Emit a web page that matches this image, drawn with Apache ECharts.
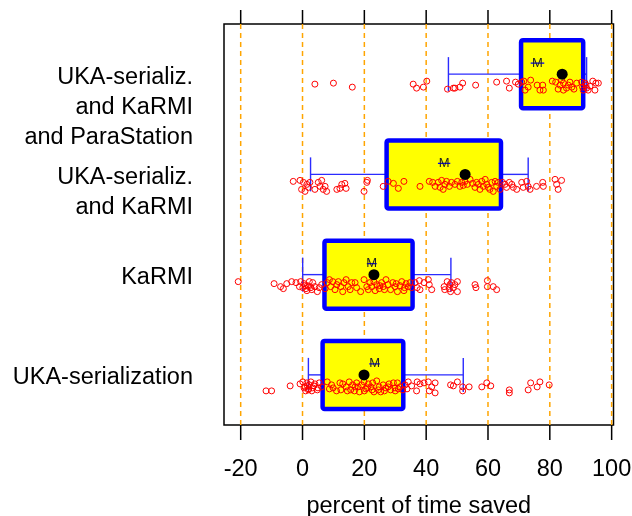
<!DOCTYPE html>
<html>
<head>
<meta charset="utf-8">
<script src="https://cdn.jsdelivr.net/npm/echarts@6/dist/echarts.min.js"></script>
<style>html,body{margin:0;padding:0;background:#fff;}#c{width:632px;height:516px;}</style>
</head>
<body>
<div id="c"></div>
<script>
// ---- data ----
const categories = ['UKA-serialization', 'KaRMI', 'UKA-serializ.\nand KaRMI', 'UKA-serializ.\nand KaRMI\nand ParaStation'];
const q1 = [6.5, 7.1, 27.2, 70.7];
const q3 = [32.6, 35.6, 64.2, 90.8];
const p10 = [1.9, 0.05, 2.6, 47.2];
const p90 = [52.0, 48.0, 73.0, 91.9];
const medians = [19.9, 23.1, 52.6, 84.0];
const means = [23.3, 22.4, 45.8, 76.0];
const stdErr = [1.7, 1.6, 2.0, 2.2];
const xTicks = [-20, 0, 20, 40, 60, 80, 100];
const xTickLabels = ['-20', '0', '20', '40', '60', '80', '100'];
const xTitle = 'percent of time saved';

// observations: [value, vertical jitter]
const pointsUKA = [[-11.8,16],[-10.0,16],[-4.0,11],[-0.8,9],[0.1,7],[0.5,13],[0.8,12],[1.0,16],[1.4,8],[1.6,11],[1.9,15],[2.0,14],[2.2,10],[2.7,7],[3.0,16],[3.3,13],[3.6,11],[4.0,9],[4.8,15],[5.0,13],[5.4,8],[6.2,12],[8.0,7],[8.7,14],[9.4,10],[9.9,13],[11.0,16],[12.1,8],[12.4,15],[13.0,9],[14.1,12],[14.5,16],[15.1,7],[15.6,15],[16.2,10],[16.8,16],[17.0,12],[17.5,8],[18.0,12],[18.4,17],[19.1,10],[19.9,7],[20.0,16],[20.5,14],[21.0,13],[21.3,9],[22.1,12],[22.5,15],[22.7,8],[23.1,17],[24.0,6],[24.5,15],[24.8,12],[25.3,17],[26.1,10],[26.5,16],[27.0,13],[27.7,12],[28.0,9],[28.5,15],[29.4,8],[29.9,13],[30.0,16],[30.7,8],[31.0,14],[31.5,12],[32.4,15],[33.2,10],[33.8,14],[34.2,7],[35.3,11],[36.9,16],[37.1,7],[38.0,9],[39.3,8],[40.7,7],[41.0,16],[41.8,12],[42.9,8],[42.9,18],[47.9,10],[48.8,11],[50.1,7],[51.8,12],[51.8,16],[53.9,12],[58.0,12],[59.6,8],[60.9,11],[66.9,15],[66.9,18],[73.0,15],[73.8,8],[75.9,12],[76.8,7],[79.8,10]];
const pointsKaRMI = [[-20.8,7],[-9.2,9],[-7.1,12],[-6.2,14],[-5.1,9],[-3.5,7],[-2.1,8],[-1.0,12],[-0.6,7],[0.1,13],[0.5,9],[0.8,11],[1.1,14],[1.4,16],[1.6,11],[2.0,12],[2.2,7],[2.7,13],[3.0,15],[3.3,8],[4.0,12],[4.8,17],[5.4,13],[6.2,10],[7.3,14],[8.0,8],[8.7,5],[9.1,12],[9.8,7],[10.5,15],[11.1,10],[11.6,7],[12.4,12],[13.0,17],[13.4,8],[14.1,5],[14.8,12],[15.4,15],[15.9,8],[17.0,8],[17.5,13],[18.8,17],[19.9,5],[20.8,12],[21.3,15],[21.8,8],[22.4,12],[23.1,7],[23.5,16],[24.0,10],[24.8,14],[25.0,11],[25.6,8],[26.1,12],[26.5,15],[27.0,5],[27.7,10],[28.5,15],[29.2,8],[29.9,12],[30.3,9],[30.7,17],[31.5,11],[32.1,7],[32.8,16],[33.0,13],[33.5,9],[34.2,12],[34.8,8],[35.3,13],[36.4,8],[37.1,13],[37.8,6],[38.0,15],[39.3,8],[40.7,5],[41.0,10],[41.8,15],[45.8,12],[46.0,15],[46.8,7],[47.5,14],[47.7,10],[47.9,17],[48.2,8],[48.8,13],[49.3,10],[50.1,7],[50.1,17],[55.8,10],[56.1,13],[59.8,6],[59.8,12],[61.7,12],[62.8,15]];
const pointsBoth = [[-3.0,7],[-0.8,6],[-0.3,15],[0.3,8],[0.8,17],[1.4,10],[1.9,13],[2.4,8],[4.0,15],[5.1,8],[5.7,12],[6.2,6],[6.7,15],[7.3,12],[7.8,17],[11.1,15],[12.1,14],[12.7,10],[13.7,9],[14.1,14],[19.9,17],[20.8,8],[21.0,6],[26.1,12],[27.7,7],[29.4,9],[31.0,14],[32.8,7],[38.0,12],[41.0,7],[42.1,8],[42.9,12],[43.9,8],[44.5,13],[45.0,6],[45.5,15],[46.1,10],[46.6,7],[47.5,12],[48.2,8],[49.3,10],[50.1,7],[50.9,12],[51.5,8],[52.0,11],[52.6,7],[53.3,10],[54.2,5],[55.0,9],[55.8,13],[56.3,8],[56.9,10],[57.4,15],[58.0,7],[58.5,12],[59.1,5],[59.6,10],[60.1,13],[60.6,15],[61.2,8],[61.7,17],[62.3,7],[62.8,12],[63.3,8],[63.9,15],[64.7,8],[65.5,10],[66.0,13],[66.9,8],[67.7,10],[68.2,13],[69.3,15],[70.9,8],[71.4,13],[72.5,7],[73.0,12],[73.6,15],[75.7,12],[77.7,8],[77.9,12],[81.7,5],[82.2,10],[82.7,15],[83.8,6]];
const pointsAll = [[4.0,10],[10.0,9],[16.1,13],[35.8,10],[36.9,14],[39.1,13],[40.2,7],[46.9,15],[48.8,14],[49.3,14],[50.9,13],[51.8,9],[56.0,11],[62.8,8],[66.0,7],[66.9,14],[68.9,8],[69.8,10],[70.9,8],[71.6,7],[72.0,16],[73.0,13],[73.8,6],[75.9,11],[76.8,16],[77.7,11],[77.9,16],[80.8,7],[81.9,8],[82.7,15],[83.3,11],[83.8,6],[84.4,9],[84.4,16],[85.4,14],[86.0,11],[86.5,8],[87.1,13],[87.8,15],[88.7,9],[90.3,8],[90.6,13],[90.8,16],[91.4,9],[91.7,11],[91.9,14],[92.4,16],[93.0,12],[93.9,7],[94.6,16],[94.9,9],[95.7,9]];

// ---- build ----
const groups = [pointsUKA, pointsKaRMI, pointsBoth, pointsAll];
const pointData = [];
groups.forEach((arr, g) => arr.forEach(p => pointData.push([p[0], g, p[1]])));
const boxData = categories.map((c, g) => [g, p10[g], q1[g], medians[g], q3[g], p90[g], means[g], stdErr[g]]);
const gridLineData = xTicks.map(v => [v]);
const LABEL_SHIFT = 0.12;
const Y_MIN = -0.5, Y_MAX = 3.5;

const FONT = '"Liberation Sans", Arial, Helvetica, sans-serif';
const chart = echarts.init(document.getElementById('c'));

function renderGridLine(params, api) {
  const v = api.value(0);
  const a = api.coord([v, Y_MIN]);
  const b = api.coord([v, Y_MAX]);
  const tk = {stroke: '#000', lineWidth: 1.5};
  return {type: 'group', children: [
    {type: 'line', shape: {x1: a[0], y1: a[1], x2: b[0], y2: b[1]},
      style: {stroke: '#FFA500', lineWidth: 1.5, lineDash: [5, 4]}},
    {type: 'line', shape: {x1: a[0], y1: a[1], x2: a[0], y2: a[1] + 15}, style: tk},
    {type: 'line', shape: {x1: b[0], y1: b[1], x2: b[0], y2: b[1] - 14}, style: tk}
  ]};
}
function renderBox(params, api) {
  const g = api.value(0);
  const w1 = api.coord([api.value(1), g]);
  const b1 = api.coord([api.value(2), g]);
  const b3 = api.coord([api.value(4), g]);
  const w2 = api.coord([api.value(5), g]);
  const y = b1[1];
  const hh = 34;
  const ws = {stroke: '#2b2bff', lineWidth: 1.4};
  return {type: 'group', children: [
    {type: 'line', shape: {x1: w1[0], y1: y, x2: b1[0], y2: y}, style: ws},
    {type: 'line', shape: {x1: b3[0], y1: y, x2: w2[0], y2: y}, style: ws},
    {type: 'line', shape: {x1: w1[0], y1: y - 17, x2: w1[0], y2: y + 17}, style: ws},
    {type: 'line', shape: {x1: w2[0], y1: y - 17, x2: w2[0], y2: y + 17}, style: ws},
    {type: 'rect', shape: {x: b1[0], y: y - hh, width: b3[0] - b1[0], height: 2 * hh, r: 2},
      style: {fill: '#FFFF00', stroke: '#0000FF', lineWidth: 4.5, lineJoin: 'round'}}
  ]};
}
function renderPoint(params, api) {
  const c = api.coord([api.value(0), api.value(1)]);
  return {type: 'circle', shape: {cx: c[0], cy: c[1] + api.value(2), r: 3},
    style: {fill: 'none', stroke: '#FF0000', lineWidth: 1}};
}
function renderCenter(params, api) {
  const g = api.value(0);
  const med = api.coord([api.value(3), g]);
  const mean = api.value(6), se = api.value(7);
  const mA = api.coord([mean - se, g]);
  const mB = api.coord([mean + se, g]);
  const mC = api.coord([mean, g]);
  const my = mC[1] - 11;
  return {type: 'group', children: [
    {type: 'line', shape: {x1: mA[0], y1: my, x2: mB[0], y2: my}, style: {stroke: '#0000FF', lineWidth: 1.3}},
    {type: 'text', style: {text: 'M', x: mC[0], y: my, align: 'center', verticalAlign: 'middle',
      fontSize: 13, fontFamily: FONT, fill: '#222'}},
    {type: 'circle', shape: {cx: med[0], cy: med[1], r: 5.5}, style: {fill: '#000'}}
  ]};
}

chart.setOption({
  animation: false,
  grid: {left: 224, right: 18.5, top: 24, bottom: 91, show: true, borderColor: '#000', borderWidth: 1.5,
    backgroundColor: 'transparent', containLabel: false, outerBoundsMode: 'none'},
  xAxis: {type: 'value', min: -25.4, max: 100.6, position: 'bottom', splitLine: {show: false},
    axisLine: {show: false, onZero: false}, axisTick: {show: false},
    name: xTitle, nameLocation: 'middle', nameGap: 70,
    nameTextStyle: {fontSize: 23.5, fontFamily: FONT, color: '#000'},
    axisLabel: {show: true, customValues: xTicks, margin: 33, fontSize: 23.5, fontFamily: FONT, color: '#000',
      formatter: v => xTickLabels[xTicks.indexOf(v)]}},
  yAxis: {type: 'value', min: Y_MIN, max: Y_MAX, splitLine: {show: false}, axisLine: {show: false, onZero: false}, axisTick: {show: false},
    axisLabel: {show: true, customValues: [0, 1, 2, 3].map(g => g + LABEL_SHIFT), margin: 31, fontSize: 23.5, fontFamily: FONT,
      color: '#000', align: 'right', verticalAlign: 'top', lineHeight: 30,
      formatter: v => categories[Math.round(v - LABEL_SHIFT)]}},
  series: [
    {type: 'custom', renderItem: renderGridLine, data: gridLineData, encode: {x: 0}, silent: true, clip: false},
    {type: 'custom', renderItem: renderBox, data: boxData, encode: {x: [1, 2, 3, 4, 5], y: 0}, silent: true},
    {type: 'custom', renderItem: renderPoint, data: pointData, encode: {x: 0, y: 1}, silent: true},
    {type: 'custom', renderItem: renderCenter, data: boxData, encode: {x: [3, 6], y: 0}, silent: true}
  ]
});
</script>
</body>
</html>
